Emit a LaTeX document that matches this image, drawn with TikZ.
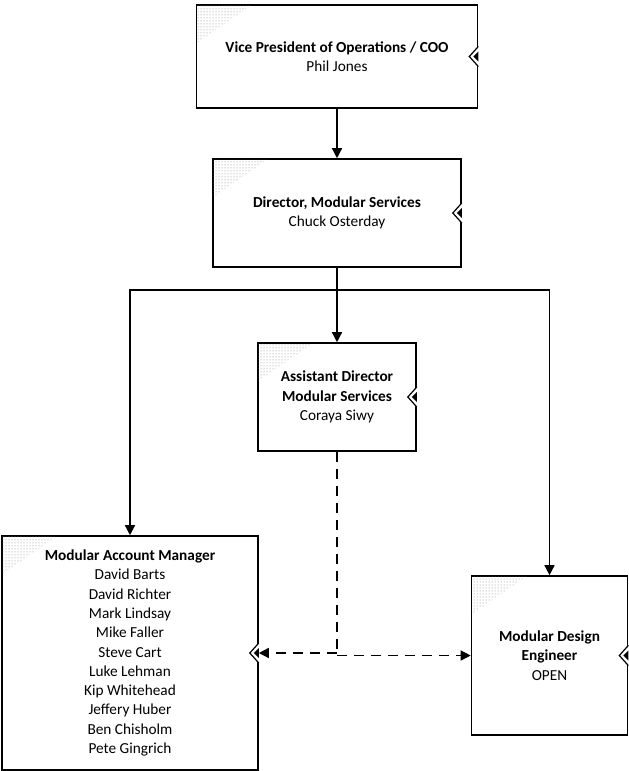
\documentclass[tikz,border=0pt]{standalone}
\usepackage{fontspec}
\setmainfont{Carlito}
\usetikzlibrary{arrows.meta,patterns}

\tikzset{
  post/.style={draw,line width=1.6pt,align=center,inner sep=0pt,
    font=\fontsize{15.3}{19.3}\selectfont},
  link/.style={line width=1.4pt,-{Triangle[length=10pt,width=10pt]}},
  dashline/.style={dashed,dash pattern=on 10pt off 7pt}
}

\begin{document}
\begin{tikzpicture}[x=1pt,y=-1pt]
  \useasboundingbox (0,0) rectangle (629,771);
  % boxes
  \node[post,minimum width=281,minimum height=103] (vp) at (337,56.5)
    {\textbf{Vice President of Operations / COO}\\Phil Jones};
  \node[post,minimum width=248,minimum height=108] (dir) at (337,213)
    {\textbf{Director, Modular Services}\\Chuck Osterday};
  \node[post,minimum width=158,minimum height=108] (ast) at (337,397)
    {\textbf{Assistant Director}\\\textbf{Modular Services}\\Coraya Siwy};
  \node[post,minimum width=256,minimum height=234] (mam) at (130,653)
    {\textbf{Modular Account Manager}\\David Barts\\David Richter\\Mark Lindsay\\Mike Faller\\Steve Cart\\Luke Lehman\\Kip Whitehead\\Jeffery Huber\\Ben Chisholm\\Pete Gingrich};
  \node[post,minimum width=156,minimum height=159] (mde) at (549.5,655.5)
    {\textbf{Modular Design}\\\textbf{Engineer}\\OPEN};
  % shaded corners and side marks
  \foreach \n in {vp,dir,ast,mam,mde} {
    \fill[pattern=dots,pattern color=gray] ([shift={(1,1)}]\n.north west) -- ++(55,0) -- ++(-55,38) -- cycle;
    \draw[line width=1.2pt,fill=white] ([yshift=10]\n.east) -- ([xshift=-9]\n.east) -- ([yshift=-10]\n.east);
    \fill ([xshift=-5]\n.east) -- ([yshift=5]\n.east) -- ([yshift=-5]\n.east) -- cycle;
  }
  % reporting lines
  \coordinate (split) at (337,290);
  \coordinate (mid) at (337,655.5);
  \draw[link] (vp) -- (dir);
  \draw[line width=1.4pt] (dir) -- (split);
  \draw[link] (split) -- (ast);
  \draw[link] (split) -| (mam.north);
  \draw[link] (split) -| (mde.north);
  \draw[line width=1.4pt,dashline] (ast.south) -- (mid);
  \draw[link,dashline] (mid |- mam.east) -- (mam.east);
  \draw[link,dashline] (mid) -- (mde.west);
\end{tikzpicture}
\end{document}
